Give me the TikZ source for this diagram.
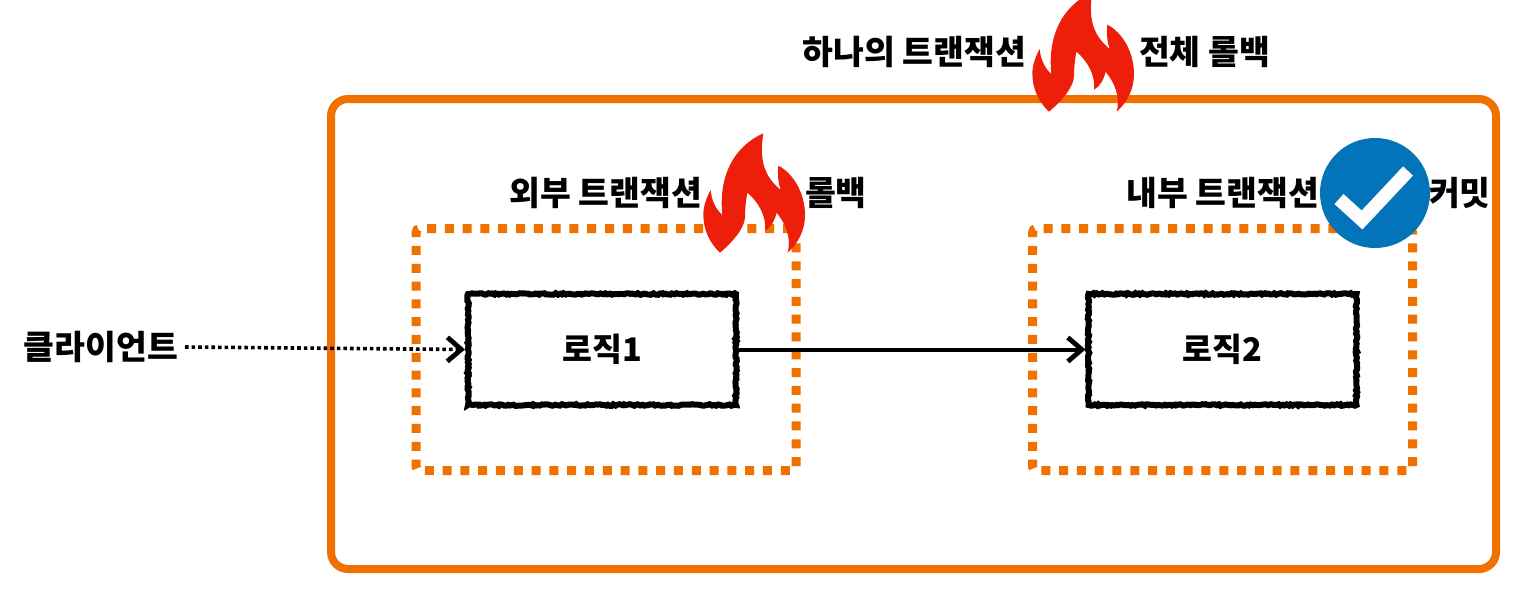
\documentclass[tikz,border=0pt]{standalone}
\usepackage{fontspec}
\setmainfont{Noto Sans CJK KR}
\usetikzlibrary{arrows.meta,decorations.pathmorphing}
\definecolor{orng}{HTML}{F07000}
\definecolor{flamecol}{HTML}{EE1F0A}
\definecolor{chkblue}{HTML}{0474BA}
\tikzset{
  outerbox/.style={draw=orng,line width=8pt,rounded corners=17pt,outer sep=0pt,inner sep=0pt,anchor=north west},
  txbox/.style={draw=orng,line width=9pt,dash pattern=on 9pt off 8.8pt,rounded corners=4pt,outer sep=0pt,inner sep=0pt,anchor=north west},
  logicbox/.style={draw=black,line width=6pt,minimum width=268pt,minimum height=111pt,inner sep=0pt,outer sep=3pt,
    font=\bfseries\fontsize{32.5}{33}\selectfont,
    decorate,decoration={random steps,segment length=2pt,amplitude=.8pt}},
  lbl/.style={inner sep=0pt,outer sep=0pt,font=\bfseries\fontsize{33.5}{34}\selectfont},
  conn/.style={black,line width=4pt,-{Straight Barb[length=14pt,width=24pt,line width=4.8pt]}},
  flame/.pic={
    \fill[flamecol] (220,40) .. controls (130,80) and (85,170) .. (97,285)
      .. controls (75,265) and (65,240) .. (62,210)
      .. controls (48,235) and (40,260) .. (40,285)
      .. controls (40,330) and (60,370) .. (90,398)
      .. controls (135,360) and (165,320) .. (165,290)
      .. controls (165,265) and (168,240) .. (172,218)
      .. controls (205,245) and (230,290) .. (225,332)
      .. controls (245,320) and (255,300) .. (260,278)
      .. controls (285,310) and (305,350) .. (293,398)
      .. controls (325,370) and (345,330) .. (345,285)
      .. controls (345,220) and (310,160) .. (265,137)
      .. controls (262,165) and (265,190) .. (272,210)
      .. controls (230,175) and (205,130) .. (220,40) -- cycle;
  }
}
\begin{document}
\begin{tikzpicture}[x=1pt,y=-1pt]
\useasboundingbox (0,0) rectangle (1522,594);
\clip (0,0) rectangle (1522,594);
\fill[white] (0,0) rectangle (1522,594);
% frames
\node[outerbox,minimum width=1165pt,minimum height=470pt] (whole) at (331,99) {};
\node[txbox,minimum width=380pt,minimum height=242pt] (outertx) at (416,228.5) {};
\node[txbox,minimum width=380pt,minimum height=242pt] (innertx) at (1032.5,228.5) {};
% logic
\node[logicbox] (logicA) at (602,349.5) {로직1};
\node[logicbox] (logicB) at (1222.5,349.5) {로직2};
% labels
\node[lbl,anchor=east] (client) at (178,347) {클라이언트};
\node[lbl,anchor=east] (t1) at (1026,52) {하나의 트랜잭션};
\node[lbl,anchor=west] (t2) at (1139,52) {전체 롤백};
\node[lbl,anchor=east] (t3) at (702,193) {외부 트랜잭션};
\node[lbl,anchor=west] (t4) at (805,193) {롤백};
\node[lbl,anchor=east] (t5) at (1319,193) {내부 트랜잭션};
\node[lbl,anchor=west] (t6) at (1429,193) {커밋};
% connectors
\draw[conn,line width=3.6pt,dash pattern=on 3.6pt off 3pt] ([xshift=7pt]client.east) -- (logicA.west);
\draw[conn] (logicA.east) -- (logicB.west);
% icons
\pic[scale=1/3] at (690,120) {flame};
\pic[scale=1/3] at (1019,-21) {flame};
\node[circle,fill=chkblue,minimum size=110pt,inner sep=0pt] (check) at (1375,193) {};
\draw[white,line width=13.5pt] (1339,199) -- (1362,220) -- (1408,171);
\end{tikzpicture}
\end{document}
